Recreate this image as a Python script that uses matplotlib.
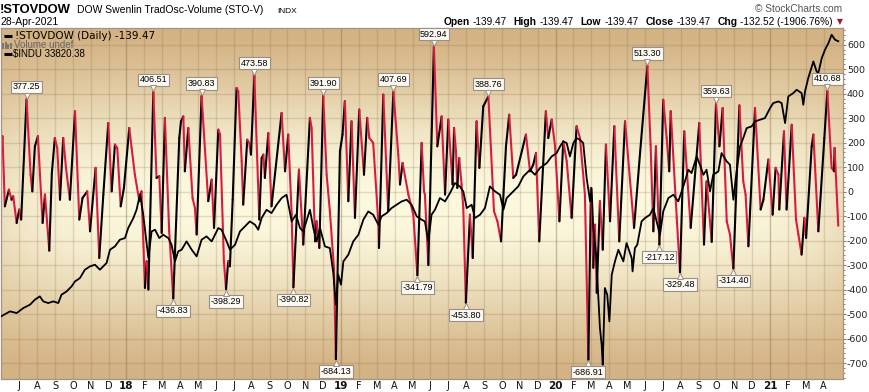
import matplotlib
matplotlib.use("Agg")
import numpy as np
import matplotlib.pyplot as plt
from matplotlib.collections import LineCollection
from matplotlib.transforms import offset_copy

plt.rcParams["axes.unicode_minus"] = False

# !STOVDOW oscillator turning points (decimal year, value)
osc_t = [2017.415, 2017.422, 2017.433, 2017.452, 2017.464, 2017.472, 2017.488, 2017.500, 2017.509, 2017.534,
         2017.553, 2017.561, 2017.573, 2017.587, 2017.609, 2017.620, 2017.640, 2017.652, 2017.666, 2017.677,
         2017.690, 2017.705, 2017.718, 2017.736, 2017.760, 2017.780, 2017.795, 2017.817, 2017.830, 2017.856,
         2017.873, 2017.892, 2017.915, 2017.931, 2017.946, 2017.957, 2017.973, 2017.988, 2018.013, 2018.024,
         2018.039, 2018.060, 2018.070, 2018.086, 2018.094, 2018.102, 2018.125, 2018.140, 2018.153, 2018.164,
         2018.179, 2018.199, 2018.218, 2018.246, 2018.254, 2018.265, 2018.272, 2018.288, 2018.308, 2018.319,
         2018.327, 2018.350, 2018.381, 2018.397, 2018.408, 2018.428, 2018.436, 2018.454, 2018.464, 2018.474,
         2018.482, 2018.495, 2018.513, 2018.521, 2018.537, 2018.544, 2018.563, 2018.572, 2018.580, 2018.596,
         2018.619, 2018.630, 2018.638, 2018.645, 2018.661, 2018.676, 2018.723, 2018.739, 2018.754, 2018.770,
         2018.778, 2018.804, 2018.824, 2018.855, 2018.863, 2018.879, 2018.886, 2018.899, 2018.917, 2018.933,
         2018.948, 2018.967, 2018.976, 2018.995, 2019.007, 2019.018, 2019.034, 2019.049, 2019.065, 2019.085,
         2019.107, 2019.122, 2019.132, 2019.150, 2019.174, 2019.177, 2019.197, 2019.220, 2019.244, 2019.267,
         2019.275, 2019.287, 2019.314, 2019.337, 2019.356, 2019.376, 2019.387, 2019.391, 2019.407, 2019.433,
         2019.449, 2019.469, 2019.485, 2019.500, 2019.520, 2019.527, 2019.536, 2019.542, 2019.551, 2019.562,
         2019.570, 2019.582, 2019.601, 2019.614, 2019.632, 2019.645, 2019.663, 2019.687, 2019.713, 2019.729,
         2019.746, 2019.769, 2019.784, 2019.803, 2019.816, 2019.862, 2019.881, 2019.896, 2019.909, 2019.924,
         2019.955, 2019.966, 2019.982, 2019.997, 2020.018, 2020.036, 2020.052, 2020.075, 2020.098, 2020.114,
         2020.137, 2020.153, 2020.165, 2020.176, 2020.184, 2020.192, 2020.207, 2020.220, 2020.235, 2020.254,
         2020.274, 2020.297, 2020.324, 2020.366, 2020.394, 2020.428, 2020.443, 2020.456, 2020.468, 2020.484,
         2020.502, 2020.518, 2020.530, 2020.537, 2020.565, 2020.580, 2020.600, 2020.630, 2020.670, 2020.692,
         2020.704, 2020.728, 2020.748, 2020.764, 2020.779, 2020.798, 2020.813, 2020.829, 2020.857, 2020.875,
         2020.886, 2020.899, 2020.930, 2020.956, 2020.969, 2020.992, 2021.012, 2021.026, 2021.039, 2021.043,
         2021.065, 2021.077, 2021.101, 2021.121, 2021.132, 2021.147, 2021.160, 2021.168, 2021.194, 2021.202,
         2021.225, 2021.253, 2021.267, 2021.287, 2021.298, 2021.301, 2021.311, 2021.318]
osc_v = [151, 226, -60, 8, -33, -19, -128, -73, -114, 377.25,
         69, 1, 185, 226, -128, -12, -241, 76, 219, 178,
         -33, 219, 97, -33, 328, -114, -26, 1, -162, 97,
         -271, -12, 280, 1, 192, 178, -60, 15, 260, 178,
         69, -39, 1, -393, -284, -400, 406.51, 56, 63, -169,
         301, -162, -436.83, 219, 287, 307, 83, 260, -26, -67,
         -175, 390.83, -39, 49, -148, 253, 233, -284, -398.29, -284,
         -305, -33, 423, 409, 124, -53, 212, 199, 151, 473.58,
         -114, 137, 151, 56, 239, -60, 321, 83, 233, -94,
         -390.82, 90, -216, 301, 260, -203, -121, -230, 391.90, 69,
         -80, -311, -684.13, 165, 233, 369, -39, 287, -107, 335,
         69, 301, 219, 199, -128, -230, 396, -80, 407.69, 151,
         29, 117, -12, -94, -341.79, 199, 1, -12, -300, 592.94,
         185, 307, -12, 294, 29, 260, 165, 15, 137, 29,
         -67, -453.80, -94, -271, 287, 97, 348, 388.76, -80, -121,
         -203, 185, 314, 56, 69, 233, 83, 110, 158, -203,
         328, 219, 294, 192, -121, 205, 124, -107, 267, 219,
         -12, -686.91, 15, -311, -135, -413, -39, -237, 192, -121,
         267, -203, 287, -148, 158, 513.30, 192, -162, 185, -217.12,
         375, 219, 83, 328, -107, -329.48, 246, -148, 280, -216,
         42, -205, 359.63, 185, 341, -121, -175, -314.40, 352, 42,
         -12, -223, 341, -73, -33, 131, -94, 97, 69, -73,
         246, -73, 273, -114, -175, -257, -107, -189, 185, 233,
         -162, 219, 410.68, 97, 83, 178, -12, -139.47]

# $INDU overlay (decimal year, close)
indu_t = [2017.415, 2017.457, 2017.488, 2017.519, 2017.550, 2017.573, 2017.596, 2017.612, 2017.635, 2017.659,
          2017.682, 2017.697, 2017.721, 2017.744, 2017.760, 2017.783, 2017.806, 2017.830, 2017.853, 2017.876,
          2017.907, 2017.923, 2017.946, 2017.969, 2017.993, 2018.008, 2018.032, 2018.047, 2018.063, 2018.078,
          2018.091, 2018.102, 2018.117, 2018.133, 2018.153, 2018.171, 2018.195, 2018.210, 2018.226, 2018.241,
          2018.257, 2018.280, 2018.304, 2018.327, 2018.350, 2018.373, 2018.397, 2018.428, 2018.443, 2018.467,
          2018.482, 2018.506, 2018.529, 2018.552, 2018.575, 2018.599, 2018.614, 2018.630, 2018.653, 2018.676,
          2018.700, 2018.723, 2018.746, 2018.770, 2018.790, 2018.809, 2018.824, 2018.855, 2018.871, 2018.886,
          2018.902, 2018.925, 2018.948, 2018.964, 2018.976, 2018.987, 2019.000, 2019.011, 2019.034, 2019.057,
          2019.081, 2019.104, 2019.127, 2019.150, 2019.174, 2019.189, 2019.213, 2019.236, 2019.259, 2019.283,
          2019.306, 2019.329, 2019.353, 2019.376, 2019.391, 2019.407, 2019.422, 2019.438, 2019.461, 2019.485,
          2019.508, 2019.531, 2019.554, 2019.570, 2019.586, 2019.609, 2019.624, 2019.648, 2019.671, 2019.694,
          2019.718, 2019.741, 2019.757, 2019.772, 2019.795, 2019.826, 2019.850, 2019.881, 2019.904, 2019.927,
          2019.959, 2019.982, 2020.005, 2020.021, 2020.036, 2020.052, 2020.067, 2020.083, 2020.098, 2020.114,
          2020.129, 2020.145, 2020.161, 2020.168, 2020.176, 2020.189, 2020.199, 2020.207, 2020.215, 2020.220,
          2020.230, 2020.241, 2020.251, 2020.262, 2020.277, 2020.293, 2020.316, 2020.331, 2020.355, 2020.359,
          2020.370, 2020.381, 2020.401, 2020.417, 2020.440, 2020.456, 2020.471, 2020.487, 2020.502, 2020.526,
          2020.549, 2020.572, 2020.588, 2020.603, 2020.619, 2020.634, 2020.658, 2020.673, 2020.689, 2020.704,
          2020.720, 2020.735, 2020.759, 2020.774, 2020.798, 2020.813, 2020.829, 2020.844, 2020.860, 2020.875,
          2020.891, 2020.914, 2020.930, 2020.953, 2020.976, 2021.000, 2021.015, 2021.039, 2021.054, 2021.070,
          2021.085, 2021.108, 2021.124, 2021.147, 2021.155, 2021.163, 2021.178, 2021.202, 2021.217, 2021.225,
          2021.241, 2021.256, 2021.272, 2021.287, 2021.303, 2021.318]
indu_v = [20866, 21101, 21023, 21258, 21415, 21651, 21808, 21572, 21494, 21572,
          21494, 21886, 22043, 22278, 22514, 22670, 23063, 23220, 23298, 23063,
          23377, 24004, 24161, 24475, 24553, 25024, 25495, 25887, 26624, 25652,
          24553, 23612, 24867, 24946, 24553, 24710, 24553, 24239, 23455, 23926,
          24004, 24396, 24004, 23690, 24475, 24632, 24396, 25024, 24946, 24396,
          24004, 24239, 24867, 25102, 25338, 25181, 24946, 25495, 25887, 25730,
          26122, 26436, 26593, 25338, 25652, 25024, 24867, 25887, 25024, 24396,
          25024, 24161, 24083, 22906, 21415, 22827, 22357, 23455, 23769, 24396,
          24710, 25416, 25808, 25652, 25181, 25573, 25730, 25965, 26122, 26279,
          26358, 26122, 25573, 25416, 25338, 24396, 25652, 25887, 26436, 26279,
          26671, 27142, 26985, 26750, 25965, 26122, 25495, 25652, 25965, 26985,
          26750, 26593, 25887, 26436, 26671, 26985, 27456, 27770, 27534, 27848,
          28084, 28397, 28554, 28868, 29103, 29025, 28397, 29025, 29260, 29182,
          29025, 27377, 26279, 26907, 25024, 23769, 21886, 20317, 19532, 18591,
          22200, 21886, 20631, 22827, 23455, 24004, 23455, 24318, 23612, 22984,
          24083, 24239, 25338, 25495, 25652, 25965, 25338, 24710, 25808, 26436,
          26593, 26279, 26750, 27221, 27770, 27613, 28397, 28005, 27534, 27770,
          26750, 27534, 27691, 28554, 28162, 28005, 26358, 27691, 28868, 29260,
          29731, 29809, 30045, 30123, 30202, 30672, 30908, 30986, 30908, 29966,
          31222, 31378, 31535, 31378, 30829, 31457, 32084, 32869, 32398, 32320,
          33026, 33418, 33732, 34124, 33889, 33820.38]

labeled = [377.25, 406.51, 390.83, 473.58, 391.90, 407.69, 592.94, 388.76, 513.30, 359.63, 410.68,
           -436.83, -398.29, -390.82, -684.13, -341.79, -453.80, -686.91, -217.12, -329.48, -314.40]
month_letters = ["J", "F", "M", "A", "M", "J", "J", "A", "S", "O", "N", "D"]

W, H = 869, 392
fig = plt.figure(figsize=(W / 100, H / 100), dpi=100)
fig.patch.set_facecolor("white")

rect = [1 / W, 13 / H, 842 / W, 351 / H]
xlim = (2017.415, 2021.340)
ylim = (-765, 668)
indu_lim = (17918, 34443)


def ftext(x, y, s, **kw):
    return fig.text(x / W, 1 - y / H, s, **kw)


# background gradient + grid
bg = fig.add_axes(rect, zorder=0)
yy = np.linspace(0, 1, 300)[:, None]
xx = np.linspace(0, 1, 500)[None, :]
light = np.sin(np.pi * yy) ** 1.5 * (1 - 0.35 * np.abs(2 * xx - 1) ** 8)
tan = np.array([211, 178, 131]) / 255
cream = np.array([252, 249, 223]) / 255
img = tan + (cream - tan) * light[..., None]
bg.imshow(img, extent=[xlim[0], xlim[1], ylim[0], ylim[1]], aspect="auto", origin="lower")

months = [(y, m) for y in range(2017, 2022) for m in range(1, 13)
          if xlim[0] + 0.01 < y + (m - 1) / 12 < xlim[1] - 0.02]
mpos = [y + (m - 1) / 12 for y, m in months]
for p, (y, m) in zip(mpos, months):
    bg.axvline(p, color="#8a6a45", alpha=0.42 if m == 1 else 0.22, lw=1)
for v in range(-700, 700, 100):
    bg.axhline(v, color="#8a6a45", alpha=0.22, lw=1)
bg.set_xlim(xlim)
bg.set_ylim(ylim)
bg.axis("off")

# oscillator
ax = fig.add_axes(rect, zorder=1)
ax.patch.set_visible(False)
pts = np.column_stack([osc_t, osc_v])
segs = np.stack([pts[:-1], pts[1:]], axis=1)
cols = np.where(np.diff(osc_v) >= 0, "#000000", "#dc1a40")
ax.add_collection(LineCollection(segs, colors=cols, linewidths=1.5,
                                 capstyle="round", joinstyle="round"))
ax.set_xlim(xlim)
ax.set_ylim(ylim)
ax.set_xticks([])
ax.yaxis.tick_right()
ax.set_yticks(range(-700, 700, 100))
ax.set_yticks(np.arange(-760, 668, 20), minor=True)
ax.tick_params(axis="y", which="major", length=2, width=0.8, color="#8c7b6b",
               labelsize=6.8, pad=0.8, labelcolor="#222222")
ax.tick_params(axis="y", which="minor", length=1.3, width=0.7, color="#8c7b6b")
for lab in ax.get_yticklabels():
    lab.set_family("DejaVu Sans")
for sp in ax.spines.values():
    sp.set_color("#a39382")
    sp.set_linewidth(0.9)

for p, (y, m) in zip(mpos, months):
    lab = str(y)[2:] if m == 1 else month_letters[m - 1]
    ax.text(p, -10 / 351, lab, transform=ax.get_xaxis_transform(), ha="center", va="baseline",
            fontsize=7.5 if m == 1 else 7, fontweight="bold" if m == 1 else "normal",
            family="DejaVu Sans", color="#111111", clip_on=False)

# $INDU overlay on its own scale, annotations on top
axi = fig.add_axes(rect, zorder=2)
axi.patch.set_visible(False)
axi.plot(indu_t, indu_v, color="black", lw=1.3)
axi.set_xlim(xlim)
axi.set_ylim(indu_lim)
axi.axis("off")

box = dict(boxstyle="square,pad=0.18", fc="#fbf9f1", ec="#9a8f84", lw=0.8)
for t, v in zip(osc_t, osc_v):
    if v in labeled:
        up = v > 0
        axi.annotate(f"{v:.2f}", (t, v), xycoords=ax.transData,
                     xytext=(0, 5.6 if up else -5.6), textcoords="offset points",
                     ha="center", va="bottom" if up else "top", fontsize=6.5,
                     family="Liberation Sans", bbox=box, zorder=5)
        tr = offset_copy(ax.transData, fig=fig, y=2.6 if up else -2.6, units="points")
        axi.plot(t, v, marker="v" if up else "^", ms=4.5, mfc="#fbf9f1", mec="#9a8f84",
                 mew=0.7, transform=tr, zorder=6, clip_on=False)

# header
ftext(0, 12.7, "!STOVDOW", fontsize=9.4, fontweight="bold", family="Liberation Sans", va="baseline")
ftext(77, 12.7, "DOW Swenlin TradOsc-Volume (STO-V)", fontsize=7.5, family="Liberation Sans", va="baseline")
ftext(277, 12.7, "INDX", fontsize=6, family="Liberation Sans", va="baseline")
ftext(842, 11.5, "\u00a9 StockCharts.com", fontsize=7.3, family="Liberation Sans", va="baseline",
      ha="right", color="#555555")
ftext(0, 25, "28-Apr-2021", fontsize=7.5, family="Liberation Sans", va="baseline")

header = [("Open", True), ("-139.47", False), ("High", True), ("-139.47", False),
          ("Low", True), ("-139.47", False), ("Close", True), ("-139.47", False),
          ("Chg", True), ("-132.52 (-1906.76%)", False)]
renderer = fig.canvas.get_renderer()
pieces = []
for s, bold in header:
    t = ftext(0, 25, s, fontsize=7.4 if bold else 7.2, fontweight="bold" if bold else "normal",
              family="Liberation Sans", va="baseline")
    pieces.append((t, t.get_window_extent(renderer).width, bold))
gaps = [3 if bold else 7 for _, _, bold in pieces[:-1]]
total = sum(w for _, w, _ in pieces) + sum(gaps)
x = 833 - total
for i, (t, w, bold) in enumerate(pieces):
    t.set_x(x / W)
    x += w + (gaps[i] if i < len(gaps) else 0)
ftext(837, 24, "\u25bc", fontsize=5.5, family="DejaVu Sans", va="baseline", color="#9b1b30")

# legend
def axp(px, py):
    return (px - 1) / 842, (379 - py) / 351

for py in (35.5, 54):
    (x0, y0), (x1, _) = axp(4, py), axp(12, py)
    ax.plot([x0, x1], [y0, y0], color="black", lw=2.2, transform=ax.transAxes, solid_capstyle="butt")
for px, top in ((3, 43), (5.5, 41.5), (8, 44), (10.5, 42.5)):
    (x0, y0), (_, y1) = axp(px, 48.5), axp(px, top)
    ax.plot([x0, x0], [y0, y1], color="#777777", lw=1.4, transform=ax.transAxes, solid_capstyle="butt")
ftext(15, 39, "!STOVDOW (Daily) -139.47", fontsize=7.5, family="DejaVu Sans", va="baseline")
ftext(14, 48.5, "Volume undef", fontsize=7, family="Liberation Sans", va="baseline", color="#666666")
ftext(13, 57.5, "$INDU 33820.38", fontsize=7, family="Liberation Sans", va="baseline")

fig.savefig("out.png", dpi=100)
